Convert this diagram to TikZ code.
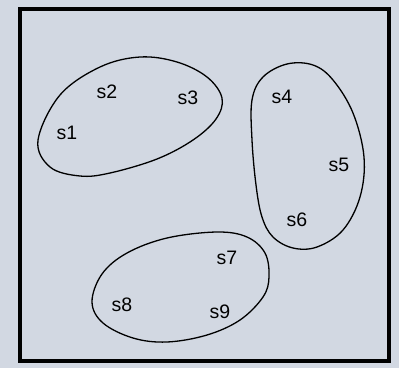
\documentclass[tikz,border=0pt]{standalone}
\usepackage{fontspec}
\setmainfont{Liberation Sans}
\usetikzlibrary{positioning}

\definecolor{paper}{HTML}{D2D8E2}

\begin{document}
\begin{tikzpicture}[x=1pt, y=-1pt,
    blob/.style={draw, line width=1.3pt, line join=round},
    lbl/.style={inner sep=0pt, font=\fontsize{19.5}{19.5}\selectfont}]
  % page and frame
  \fill[paper] (0,0) rectangle (399,368);
  \useasboundingbox (0,0) rectangle (399,368);
  \draw[line width=3.4pt] (20,9) rectangle (389,361);
  % labels
  \foreach \n/\x/\y in {1/67/133, 2/107/92, 3/188/98, 4/282/97, 5/339/165,
                        6/297/220, 7/227/258, 8/122/305, 9/220/312}
    \node[lbl] (s\n) at (\x,\y) {s\n};
  % cluster of s1, s2, s3
  \draw[blob] plot[smooth cycle, tension=0.6] coordinates {(38,140) (60,95) (100,67)
    (140,57) (177,62) (207,77) (222,98) (216,119) (193,140) (157,159) (110,173)
    (80,176) (50,167)};
  % cluster of s4, s5, s6
  \draw[blob] plot[smooth cycle, tension=0.6] coordinates {(252,100) (263,77) (287,64)
    (313,65) (333,80) (353,113) (364,157) (360,197) (343,230) (317,247) (293,248)
    (273,237) (262,217) (256,185) (252,140)};
  % cluster of s7, s8, s9
  \draw[blob] plot[smooth cycle, tension=0.6] coordinates {(92,302) (102,274) (127,253)
    (167,238) (217,232) (247,237) (265,253) (269,277) (263,297) (240,320) (207,335)
    (167,342) (133,338) (103,323)};
\end{tikzpicture}
\end{document}
